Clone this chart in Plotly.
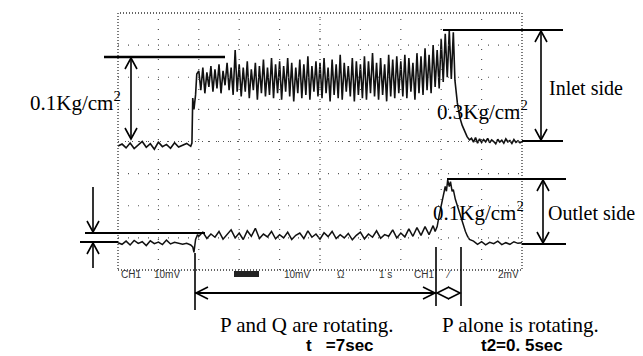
import plotly.graph_objects as go

# ---------------- data (oscilloscope screen divisions) ----------------
# Inlet-side pressure trace (x: time div, y: vertical div)
inlet_t = [0.0, 0.1, 0.2, 0.3, 0.4, 0.5, 0.6, 0.7, 0.8, 0.9, 1.0, 1.1, 1.2, 1.3, 1.4, 1.5, 1.6, 1.7, 1.8,
           1.83, 1.85, 1.88, 1.92, 1.95,
           2.00, 2.05, 2.10, 2.15, 2.20, 2.25, 2.30, 2.35, 2.40, 2.45, 2.50, 2.55, 2.60, 2.65, 2.70, 2.75, 2.80, 2.85, 2.90, 2.95,
           3.00, 3.05, 3.10, 3.15, 3.20, 3.25, 3.30, 3.35, 3.40, 3.45, 3.50, 3.55, 3.60, 3.65, 3.70, 3.75, 3.80, 3.85, 3.90, 3.95,
           4.00, 4.05, 4.10, 4.15, 4.20, 4.25, 4.30, 4.35, 4.40, 4.45, 4.50, 4.55, 4.60, 4.65, 4.70, 4.75, 4.80, 4.85, 4.90, 4.95,
           5.00, 5.05, 5.10, 5.15, 5.20, 5.25, 5.30, 5.35, 5.40, 5.45, 5.50, 5.55, 5.60, 5.65, 5.70, 5.75, 5.80, 5.85, 5.90, 5.95,
           6.00, 6.05, 6.10, 6.15, 6.20, 6.25, 6.30, 6.35, 6.40, 6.45, 6.50, 6.55, 6.60, 6.65, 6.70, 6.75, 6.80, 6.85, 6.90, 6.95,
           7.00, 7.05, 7.10, 7.15, 7.20, 7.25, 7.30, 7.35, 7.40, 7.45, 7.50, 7.55, 7.60, 7.65, 7.70, 7.75, 7.80, 7.85, 7.90, 7.95,
           8.00, 8.05, 8.10, 8.15, 8.20, 8.25, 8.30,
           8.34, 8.40, 8.46, 8.52, 8.58, 8.64, 8.70, 8.75,
           8.80, 8.85, 8.90, 8.95, 9.00, 9.05, 9.10, 9.15, 9.20, 9.25, 9.30, 9.35, 9.40, 9.45, 9.50, 9.55, 9.60, 9.65,
           9.70, 9.75, 9.80, 9.85, 9.90, 9.95, 10.0]
inlet_v = [3.86, 3.92, 3.80, 3.95, 3.78, 3.90, 4.00, 3.82, 3.93, 3.76, 3.98, 3.84, 3.91, 3.79, 3.96, 3.83, 3.89, 3.94, 3.85,
           3.95, 5.35, 5.00, 5.45, 6.10,
           6.20, 5.60, 6.30, 5.50, 6.15, 5.70, 6.35, 5.55, 6.25, 5.65, 6.40, 5.50, 6.20, 5.75, 6.45, 5.60, 6.30, 5.45, 6.85, 5.55,
           6.40, 5.40, 6.30, 5.55, 6.50, 5.35, 6.25, 5.60, 6.45, 5.30, 6.35, 5.50, 6.55, 5.40, 6.30, 5.45, 6.60, 5.35, 6.40, 5.50,
           6.50, 5.30, 6.35, 5.55, 6.60, 5.40, 6.45, 5.25, 6.30, 5.50, 6.55, 5.35, 6.40, 5.45, 6.65, 5.30, 6.35, 5.55, 6.50, 5.40,
           6.45, 5.35, 6.60, 5.50, 6.30, 5.25, 6.55, 5.45, 6.40, 5.35, 6.70, 5.30, 6.45, 5.55, 6.35, 5.40, 6.60, 5.25, 6.50, 5.45,
           6.40, 5.35, 6.65, 5.30, 6.50, 5.50, 6.75, 5.40, 6.45, 5.30, 6.60, 5.45, 6.40, 5.25, 6.70, 5.40, 6.55, 5.35, 6.65, 5.50,
           6.50, 5.40, 6.70, 5.35, 6.60, 5.55, 6.45, 5.30, 6.75, 5.50, 6.65, 5.45, 6.90, 5.60, 6.70, 5.50, 7.00, 5.70, 6.85, 5.65,
           7.20, 5.85, 7.35, 6.00, 7.45, 5.95, 7.40,
           5.90, 5.20, 4.75, 4.50, 4.30, 4.15, 4.05, 4.10,
           3.98, 4.12, 3.95, 4.08, 3.97, 4.06, 3.99, 4.10, 3.96, 4.05, 4.00, 3.93, 4.07, 3.98, 4.04, 3.95, 4.08, 3.99,
           4.03, 3.94, 4.06, 3.97, 4.02, 3.96, 4.00]

# Outlet-side pressure trace
outlet_t = [0.0, 0.1, 0.2, 0.3, 0.4, 0.5, 0.6, 0.7, 0.8, 0.9, 1.0, 1.1, 1.2, 1.3, 1.4, 1.5, 1.6, 1.7, 1.8,
            1.85, 1.88, 1.92, 1.97,
            2.0, 2.1, 2.2, 2.3, 2.4, 2.5, 2.6, 2.7, 2.8, 2.9, 3.0, 3.1, 3.2, 3.3, 3.4, 3.5, 3.6, 3.7, 3.8, 3.9,
            4.0, 4.1, 4.2, 4.3, 4.4, 4.5, 4.6, 4.7, 4.8, 4.9, 5.0, 5.1, 5.2, 5.3, 5.4, 5.5, 5.6, 5.7, 5.8, 5.9,
            6.0, 6.1, 6.2, 6.3, 6.4, 6.5, 6.6, 6.7, 6.8, 6.9, 7.0, 7.1, 7.2, 7.3, 7.4, 7.5, 7.6, 7.7, 7.8,
            7.85, 7.9, 7.95, 8.0, 8.05, 8.1, 8.13, 8.16, 8.2, 8.23, 8.27, 8.3, 8.35, 8.4, 8.45, 8.5, 8.55, 8.6,
            8.65, 8.7, 8.8, 8.9, 9.0, 9.1, 9.2, 9.3, 9.4, 9.5, 9.6, 9.7, 9.8, 9.9, 10.0]
outlet_v = [0.85, 0.80, 0.90, 0.78, 0.92, 0.83, 0.88, 0.76, 0.91, 0.82, 0.87, 0.79, 0.93, 0.81, 0.86, 0.84, 0.80, 0.83, 0.78,
            0.72, 0.55, 0.95, 1.10,
            1.05, 1.18, 0.98, 1.12, 1.02, 1.20, 0.96, 1.10, 1.25, 1.00, 1.15, 0.95, 1.22, 1.05, 1.30, 0.98, 1.12, 1.03, 1.20, 0.97,
            1.10, 1.00, 1.18, 0.95, 1.08, 1.15, 0.98, 1.22, 1.02, 1.12, 0.96, 1.16, 1.04, 1.20, 0.98, 1.10, 1.00, 1.14, 0.94, 1.08,
            1.18, 0.97, 1.12, 1.02, 1.22, 0.99, 1.10, 1.05, 1.25, 1.00, 1.15, 1.03, 1.28, 1.05, 1.32, 1.08, 1.35, 1.10, 1.38,
            1.20, 1.35, 1.70, 2.00, 2.35, 2.60, 2.45, 2.80, 2.60, 2.75, 2.45, 2.50, 2.20, 2.00, 1.75, 1.55, 1.35, 1.20,
            1.05, 0.95, 0.90, 0.80, 0.88, 0.78, 0.86, 0.82, 0.90, 0.79, 0.85, 0.80, 0.88, 0.83, 0.85]

# scope read-out labels under the screen
readout_labels = ["CH1", "10mV", "10mV", "Ω", "1 s", "CH1", "⁄", "2mV"]
readout_px = [131, 167, 297, 341, 385, 424, 448, 508]

# ---------------- helpers: pixel layout -> screen divisions ----------------
# The page body has an 8px margin, so the figure starts at window pixel 8.
PAGE_OFF = 8


def X(px):
    return (px - 118) / 40.4


def Y(py):
    return (270 - py) / 32.125


fig = go.Figure()
fig.add_trace(go.Scatter(x=inlet_t, y=inlet_v, mode="lines",
                         line=dict(color="#111", width=1.6), hoverinfo="skip"))
fig.add_trace(go.Scatter(x=outlet_t, y=outlet_v, mode="lines",
                         line=dict(color="#111", width=1.5), hoverinfo="skip"))

shapes = []
# scope graticule (sparse dots)
for i in range(1, 10):
    shapes.append(dict(type="line", xref="x", yref="y", x0=i, x1=i, y0=0, y1=8,
                       line=dict(color="#555", width=1.2, dash="1px,9px")))
for j in range(1, 8):
    shapes.append(dict(type="line", xref="x", yref="y", x0=0, x1=10, y0=j, y1=j,
                       line=dict(color="#555", width=1.2, dash="1px,9px")))
shapes.append(dict(type="line", xref="x", yref="y", x0=5, x1=5, y0=0, y1=8,
                   line=dict(color="#555", width=1.2, dash="1px,6px")))
shapes.append(dict(type="line", xref="x", yref="y", x0=0, x1=10, y0=4, y1=4,
                   line=dict(color="#555", width=1.2, dash="1px,6px")))
# screen border (dotted)
shapes.append(dict(type="rect", xref="x", yref="y", x0=0, x1=10, y0=0, y1=8,
                   line=dict(color="#333", width=1.3, dash="1px,2px")))


def seg(x0, y0, x1, y1, w=1.6):
    shapes.append(dict(type="line", xref="x", yref="y", x0=X(x0), y0=Y(y0), x1=X(x1), y1=Y(y1),
                       line=dict(color="#000", width=w)))


def head(ax, ay, d, L=11, W=6, w=1.6):
    if d == "up":
        pts = [(ax - W, ay + L), (ax, ay), (ax + W, ay + L)]
    elif d == "down":
        pts = [(ax - W, ay - L), (ax, ay), (ax + W, ay - L)]
    elif d == "left":
        pts = [(ax + L, ay - W), (ax, ay), (ax + L, ay + W)]
    else:
        pts = [(ax - L, ay - W), (ax, ay), (ax - L, ay + W)]
    path = "M {} {} L {} {} L {} {}".format(X(pts[0][0]), Y(pts[0][1]), X(pts[1][0]), Y(pts[1][1]),
                                            X(pts[2][0]), Y(pts[2][1]))
    shapes.append(dict(type="path", xref="x", yref="y", path=path, line=dict(color="#000", width=w)))


# inlet 0.1 kg/cm2 marker (left)
seg(104, 57, 225, 57, 2.5)
seg(131, 58, 131, 139)
head(131, 58, "up")
head(131, 139, "down")
# inlet side (right)
seg(443, 30, 563, 30, 2.2)
seg(522, 141, 563, 141, 2.2)
seg(541, 31, 541, 140)
head(541, 31, "up")
head(541, 140, "down")
# outlet side (right)
seg(447, 179, 566, 179, 2.2)
seg(522, 244, 566, 244, 2.2)
seg(543, 180, 543, 243)
head(543, 180, "up")
head(543, 243, "down")
# outlet 0.01 kg/cm2 marker (left)
seg(85, 233, 205, 233, 2.2)
seg(80, 242, 118, 242, 2.2)
seg(93, 187, 93, 232)
head(93, 232, "down")
seg(93, 243, 93, 268)
head(93, 243, "up")
# time spans
seg(195, 253, 195, 310)
seg(195, 293, 436, 293, 1.8)
head(196, 293, "left", L=12, W=6)
head(435, 293, "right", L=12, W=6)
seg(436, 247, 436, 306)
seg(461, 247, 461, 306)
head(437, 293, "left", L=12, W=6)
head(460, 293, "right", L=12, W=6)
# highlighted block in read-out
shapes.append(dict(type="rect", xref="x", yref="y", x0=X(234), x1=X(259), y0=Y(277), y1=Y(271),
                   line=dict(width=0), fillcolor="#222"))

serif = dict(family="Liberation Serif, Times New Roman, serif", size=21, color="#000")
serif_side = dict(family="Liberation Serif, Times New Roman, serif", size=20, color="#000")
bold_sans = dict(family="Liberation Sans, Arial, sans-serif", size=17, color="#000", weight="bold")
ann = []


def txt(s, px, py, font, xanchor="left"):
    ann.append(dict(text=s, x=X(px), y=Y(py), xref="x", yref="y", showarrow=False,
                    xanchor=xanchor, yanchor="middle", font=font))


txt("0.1Kg/cm<sup>2</sup>", 28, 101, serif)
txt("Inlet side", 547, 88, serif_side)
txt("0.3Kg/cm<sup>2</sup>", 435, 110, serif)
txt("Outlet side", 546, 213, serif_side)
txt("0.1Kg/cm<sup>2</sup>", 431, 211, serif)
txt("0.01Kg/cm<sup>2</sup>", 3, 285, serif)
txt("P and Q are rotating.", 307, 325, serif, "center")
txt("P alone is rotating.", 520, 325, serif, "center")
txt("t   =7sec", 340, 345, bold_sans, "center")
txt("t2=0. 5sec", 522, 345, bold_sans, "center")
for lab, p in zip(readout_labels, readout_px):
    txt(lab, p, 274, dict(family="Liberation Sans, Arial, sans-serif", size=10, color="#333"), "center")

fig.update_layout(
    width=643 - PAGE_OFF, height=356 - PAGE_OFF,
    margin=dict(l=0, r=0, t=0, b=0),
    paper_bgcolor="white", plot_bgcolor="white",
    showlegend=False,
    shapes=shapes, annotations=ann,
    xaxis=dict(range=[X(PAGE_OFF), X(643)], visible=False, fixedrange=True),
    yaxis=dict(range=[Y(356), Y(PAGE_OFF)], visible=False, fixedrange=True),
)
fig.write_html("out.html")
